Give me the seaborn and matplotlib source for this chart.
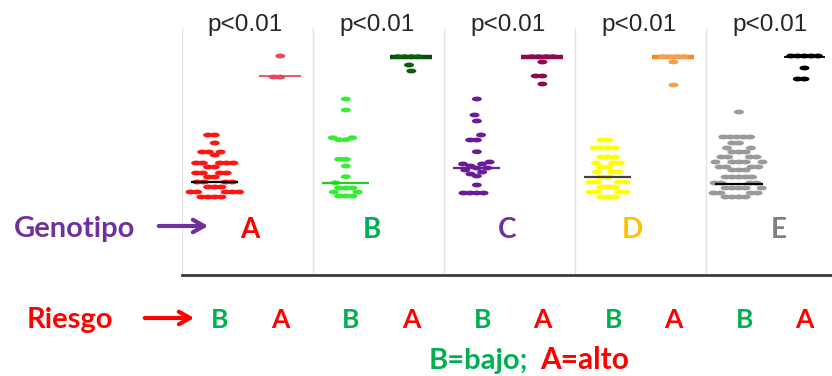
import numpy as np
import pandas as pd
import matplotlib
matplotlib.use('Agg')
import matplotlib.pyplot as plt
import matplotlib.transforms as mtransforms
from matplotlib.path import Path
import seaborn as sns

# Valores (unidades arbitrarias, sin eje y)
genotipos = ['A', 'B', 'C', 'D', 'E']
riesgo = ['B', 'A']

a_bajo = [56, 56, 52.8, 49.2, 49.2, 49.2, 48, 44.8, 44.8, 44.8, 44.8, 44.8,
          43.2, 43.2, 40.8, 40.8, 40.8, 40.8, 39.2, 39.2, 37.2, 37.2, 37.2, 37.2,
          35.2, 35.2, 35.2, 33.2, 33.2, 33.2, 33.2, 33.2, 31.2, 31.2, 31.2, 31.2]
a_alto = [87.6, 79.2, 79.2]
b_bajo = [70.4, 66, 54.9, 54.1, 54.1, 54.9, 46.3, 46.3, 43.6, 39.3, 36.9,
          34.8, 34.8, 34.8, 33.2, 33.2, 31.6, 31.6, 31.6]
b_alto = [87.3, 87.3, 87.3, 87.3, 84.0, 81.6]
c_bajo = [70.4, 64, 61.6, 56, 54, 54, 49.3, 45.2, 44.4, 44.4, 43.6, 42.8, 42.8,
          42, 41.2, 40.4, 39.6, 36, 32.8, 32.8, 32.8, 32.8]
c_alto = [87.3, 87.3, 87.3, 87.3, 85.2, 79.6, 79.6, 76.4]
d_bajo = [54, 54, 50.8, 50.8, 50.8, 50.8, 47.2, 47.2, 47.2, 44.8, 44.8, 44.8,
          43.2, 43.2, 41.2, 41.2, 41.2, 39.2, 39.2, 37.2, 37.2, 37.2, 37.2,
          35.2, 35.2, 35.2, 33.2, 33.2, 33.2, 33.2, 31.2, 31.2, 31.2]
d_alto = [87.3, 87.3, 87.3, 87.3, 85.2, 76.0]
e_bajo = [65.2, 55.2, 55.2, 55.2, 55.2, 55.2, 52.8, 52.8, 50.8, 50.8, 49.2, 49.2,
          49.2, 47.2, 47.2, 47.2, 47.2, 45.2, 45.2, 45.2, 45.2, 45.2, 43.2, 43.2,
          43.2, 43.2, 42, 42, 42, 39.2, 39.2, 39.2, 39.2, 39.2, 36.8,
          36.8, 36.8, 36.8, 34.8, 34.8, 34.8, 34.8, 34.8, 32.8, 32.8, 32.8, 32.8,
          31.2, 31.2, 31.2, 31.2]
e_alto = [87.6, 87.6, 87.6, 87.6, 87.6, 82.8, 78.4, 78.4]

mediana_bajo = [37.2, 36.8, 42.8, 39.2, 36.4]
mediana_alto = [79.6, 87.3, 87.3, 87.3, 87.3]
p_valores = ['p<0.01'] * 5

# colores
col_bajo = ['#FF1414', '#33EE33', '#6A1B9A', '#FFFF00', '#9A9A9A']
col_alto = ['#E8485A', '#0A5E0A', '#8B0A50', '#F5A050', '#000000']
col_linea_bajo = ['#000000', '#22CC22', '#6A1B9A', '#404040', '#000000']
col_linea_alto = ['#E8485A', '#0A4A0A', '#8B0A50', '#F08A30', '#000000']
col_genotipo = ['#FF0000', '#00B050', '#7030A0', '#FFC000', '#808080']
col_riesgo = {'B': '#00B050', 'A': '#FF0000'}

series = [a_bajo, a_alto, b_bajo, b_alto, c_bajo, c_alto, d_bajo, d_alto, e_bajo, e_alto]
grupos = [f'{g}-{r}' for g in genotipos for r in riesgo]
df = pd.concat([pd.DataFrame({'grupo': g, 'valor': v}) for g, v in zip(grupos, series)],
               ignore_index=True)
paleta = {}
for i, g in enumerate(genotipos):
    paleta[f'{g}-B'] = col_bajo[i]
    paleta[f'{g}-A'] = col_alto[i]

sns.set_style('white')
plt.rcParams['font.family'] = ['Lato', 'DejaVu Sans']

fig = plt.figure(figsize=(8.32, 3.76), dpi=100)
W, H = 832, 376
ax = fig.add_axes([182 / W, 1 - 275 / H, 650 / W, 255 / H])

sns.swarmplot(data=df, x='grupo', y='valor', hue='grupo', order=grupos,
              palette=paleta, legend=False, size=4.6,
              linewidth=0, ax=ax, warn_thresh=1)

# puntos elipticos algo mas anchos que el tamaño usado para el enjambre
t = np.linspace(0, 2 * np.pi, 40)
elipse = Path(np.column_stack([0.78 * np.cos(t), 0.38 * np.sin(t)]))
for coll in ax.collections:
    coll.set_paths([elipse])

for i in range(5):
    xb, xa = 2 * i, 2 * i + 1
    ax.hlines(mediana_bajo[i], xb - 0.36, xb + 0.36, color=col_linea_bajo[i], lw=1.6, zorder=5)
    lw_alto = 1.3 if i in (0, 4) else 3.2
    ax.hlines(mediana_alto[i], xa - 0.32, xa + 0.32, color=col_linea_alto[i], lw=lw_alto, zorder=1)

ax.vlines([-0.5, 1.5, 3.5, 5.5, 7.5], 0, 98.8, color='#E2E2E2', lw=1, zorder=0)
ax.set_xlim(-0.5, 9.42)
ax.set_ylim(0, 102)
for s in ['top', 'right', 'left']:
    ax.spines[s].set_visible(False)
ax.spines['bottom'].set_color('#3A3A3A')
ax.spines['bottom'].set_linewidth(2)
ax.set_xticks([])
ax.set_yticks([])
ax.set_xlabel('')
ax.set_ylabel('')

# p valores arriba de cada panel
for i, p in enumerate(p_valores):
    ax.text(2 * i + 0.47, 100, p, ha='center', va='center', fontsize=17.5,
            family='Liberation Sans', color='#262626')

# letras de genotipo dentro del eje
trans = mtransforms.blended_transform_factory(ax.transData, fig.transFigure)
x_genotipo = [0.54, 2.4, 4.46, 6.37, 8.61]
for i, g in enumerate(genotipos):
    ax.text(x_genotipo[i], 1 - 238 / H, g, transform=trans,
            ha='center', va='baseline', fontsize=20, fontweight='bold', color=col_genotipo[i])

# fila de riesgo debajo del eje
for j, g in enumerate(grupos):
    r = g.split('-')[1]
    ax.text(j + (0.08 if r == 'B' else 0), 1 - 328 / H, r, transform=trans, ha='center',
            va='baseline', fontsize=19, fontweight='bold', color=col_riesgo[r])

fig.text(75 / W, 1 - 237 / H, 'Genotipo', ha='center', va='baseline', fontsize=21,
         fontweight='bold', color='#7030A0')
fig.text(70 / W, 1 - 328 / H, 'Riesgo', ha='center', va='baseline', fontsize=21,
         fontweight='bold', color='#FF0000')
flecha = '->,head_length=0.8,head_width=0.45'
ax.annotate('', xy=(211 / W, 1 - 226 / H), xytext=(156 / W, 1 - 226 / H),
            xycoords='figure fraction', textcoords='figure fraction',
            arrowprops=dict(arrowstyle=flecha, lw=3, color='#7030A0'),
            annotation_clip=False)
ax.annotate('', xy=(197 / W, 1 - 318 / H), xytext=(142 / W, 1 - 318 / H),
            xycoords='figure fraction', textcoords='figure fraction',
            arrowprops=dict(arrowstyle=flecha, lw=3, color='#FF0000'),
            annotation_clip=False)

fig.text(528 / W, 1 - 369 / H, 'B=bajo;', ha='right', va='baseline', fontsize=21,
         fontweight='bold', color='#00B050')
fig.text(540 / W, 1 - 369 / H, 'A=alto', ha='left', va='baseline', fontsize=21.5,
         fontweight='bold', color='#FF0000')

fig.savefig('out.png', dpi=100)
